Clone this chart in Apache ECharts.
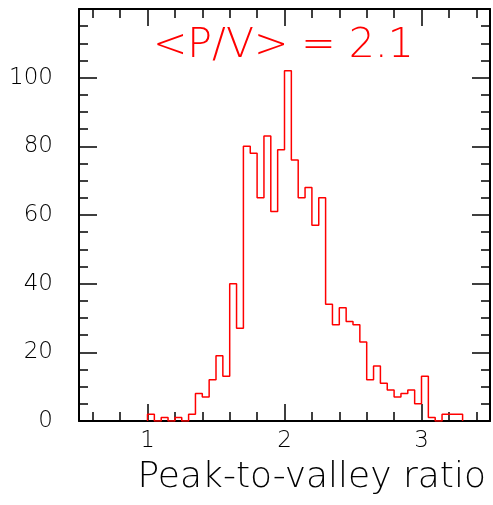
<!DOCTYPE html>
<html>
<head>
<meta charset="utf-8">
<script src="https://cdn.jsdelivr.net/npm/echarts@6/dist/echarts.min.js"></script>
<style>html,body{margin:0;padding:0;background:#fff;}#c{width:493px;height:505px;}</style>
</head>
<body>
<div id="c"></div>
<script>
// Histogram data: bins of width 0.05 starting at 1.00
const binStart = 1.0;
const binWidth = 0.05;
const counts = [2,0,1,0,1,0, 2,8,7,12,19,13, 40,27,80,78,65,83, 61,79,102,76,65,68, 57,65,34,28,33,29, 28,23,12,16,11,9, 7,8,9,5,13,1, 0,2,2,2];
const xMajorTicks = [1,2,3];
const xMinorTicks = [0.6,0.8,1.2,1.4,1.6,1.8,2.2,2.4,2.6,2.8,3.2,3.4];
const yLabels = [0,20,40,60,80,100];
const titleText = '<P/V> = 2.1';
const xTitle = 'Peak-to-valley ratio';

const pts = [[binStart, 0]];
counts.forEach((c, i) => pts.push([+(binStart + i * binWidth).toFixed(3), c]));
pts.push([+(binStart + counts.length * binWidth).toFixed(3), 0]);

const FONT = 'DejaVu Sans';
const lineStyle = {color: '#000', width: 2};
const tickStyle = {color: '#000', width: 1.5};

function xAxisDef(pos, ticks, len, labels, showLine) {
  return {
    type: 'value', min: 0.5, max: 3.5, position: pos,
    axisLine: {show: showLine, lineStyle: lineStyle},
    axisTick: {show: true, inside: true, length: len, customValues: ticks, lineStyle: tickStyle},
    axisLabel: labels ? {show: true, customValues: labels, fontSize: 23, color: '#000', margin: 9, fontFamily: FONT, fontWeight: 200} : {show: false},
    splitLine: {show: false}
  };
}
function yAxisDef(pos, labels) {
  return {
    type: 'value', min: 0, max: 120, interval: 20, position: pos,
    axisLine: {show: true, lineStyle: lineStyle},
    axisTick: {show: true, inside: true, length: 18, lineStyle: tickStyle},
    minorTick: {show: true, splitNumber: 4, length: 9, lineStyle: tickStyle},
    axisLabel: labels ? {show: true, customValues: labels, fontSize: 23, color: '#000', margin: 26, fontFamily: FONT, fontWeight: 200} : {show: false},
    splitLine: {show: false}
  };
}

const chart = echarts.init(document.getElementById('c'), null, {renderer: 'canvas'});
chart.setOption({
  animation: false,
  backgroundColor: '#fff',
  grid: {left: 79, right: 3, top: 9, bottom: 84, containLabel: false},
  title: [
    {text: titleText, left: 148, top: 21, textStyle: {color: '#ff0000', fontSize: 41, fontWeight: 200, fontFamily: FONT}},
    {text: xTitle, right: 2, top: 455, textStyle: {color: '#000', fontSize: 36, fontWeight: 200, fontFamily: FONT}}
  ],
  xAxis: [
    xAxisDef('bottom', xMinorTicks, 9, xMajorTicks, true),
    xAxisDef('bottom', xMajorTicks, 17, null, false),
    xAxisDef('top', xMinorTicks, 9, null, true),
    xAxisDef('top', xMajorTicks, 17, null, false)
  ],
  yAxis: [yAxisDef('left', yLabels), yAxisDef('right', null)],
  series: [{
    type: 'line', xAxisIndex: 0, yAxisIndex: 0, step: 'end', data: pts,
    symbol: 'none', lineStyle: {color: '#ff0000', width: 1.5}
  }]
});
</script>
</body>
</html>
